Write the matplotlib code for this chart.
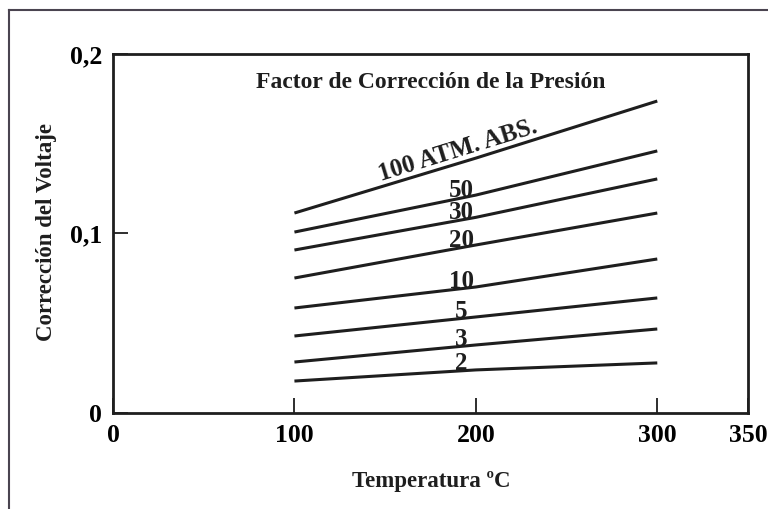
import numpy as np
import matplotlib
matplotlib.use('Agg')
import matplotlib.pyplot as plt
from matplotlib.lines import Line2D

# temperatura (C) y correccion del voltaje para cada presion
temps = [100, 200, 300]
presiones = ['100 ATM. ABS.', '50', '30', '20', '10', '5', '3', '2']
corr_100 = [0.1114, 0.1420, 0.1738]
corr_50 = [0.1008, 0.1214, 0.1460]
corr_30 = [0.0908, 0.1090, 0.1304]
corr_20 = [0.0752, 0.0936, 0.1114]
corr_10 = [0.0585, 0.0702, 0.0858]
corr_5 = [0.0429, 0.0535, 0.0641]
corr_3 = [0.0284, 0.0379, 0.0468]
corr_2 = [0.0178, 0.0240, 0.0279]
curvas = [corr_100, corr_50, corr_30, corr_20, corr_10, corr_5, corr_3, corr_2]

xticks = [0, 100, 200, 300, 350]
yticks = [0, 0.1, 0.2]
ytick_labels = ['0', '0,1', '0,2']

plt.rcParams['font.family'] = ['Liberation Serif', 'DejaVu Serif']
plt.rcParams['font.weight'] = 'bold'
ink = '#1e1e1e'

fig = plt.figure(figsize=(7.68, 5.09), dpi=100)
ax = fig.add_axes([113/768, 1-413/509, (748-113)/768, (413-54)/509])

for c in curvas:
    ax.plot(temps, c, color=ink, lw=2.2, solid_capstyle='butt')

ax.set_xlim(0, 350)
ax.set_ylim(0, 0.2)
ax.set_xticks(xticks)
ax.set_xticklabels([str(t) for t in xticks])
ax.set_yticks(yticks)
ax.set_yticklabels(ytick_labels)
ax.tick_params(direction='in', length=11, width=1.3, color=ink, labelsize=18.5, pad=8)
ax.tick_params(axis='y', pad=8)
for s in ax.spines.values():
    s.set_linewidth(2)
    s.set_color(ink)

# etiquetas de las curvas
t_lab = 192
for lab, c in zip(presiones, curvas):
    yv = np.interp(t_lab, temps, c)
    if lab.startswith('100'):
        p1 = ax.transData.transform((temps[0], c[0]))
        p2 = ax.transData.transform((temps[-1], c[-1]))
        ang = np.degrees(np.arctan2(p2[1]-p1[1], p2[0]-p1[0]))
        ax.annotate(lab, (t_lab, yv), xytext=(0, 1), textcoords='offset points',
                    ha='center', va='bottom', rotation=ang, rotation_mode='anchor',
                    fontsize=18, color=ink)
    else:
        ax.annotate(lab, (t_lab, yv), xytext=(0, -3), textcoords='offset points',
                    ha='center', va='bottom', fontsize=18, color=ink)

ax.text(0.5, 0.95, 'Factor de Corrección de la Presión', transform=ax.transAxes,
        ha='center', va='top', fontsize=17, color=ink)
fig.text(431/768, 1-481/509, 'Temperatura ºC', ha='center', va='center', fontsize=16.5, color=ink)
fig.text(47/768, 1-232/509, 'Corrección del Voltaje', ha='center', va='center',
         rotation=90, fontsize=16.5, color=ink)

# marco exterior
border = '#4a4450'
fig.add_artist(Line2D([9/768, 1], [1-10/509, 1-10/509], transform=fig.transFigure, color=border, lw=1.5))
fig.add_artist(Line2D([9/768, 9/768], [0, 1-10/509], transform=fig.transFigure, color=border, lw=1.5))

fig.savefig('out.png', dpi=100)
